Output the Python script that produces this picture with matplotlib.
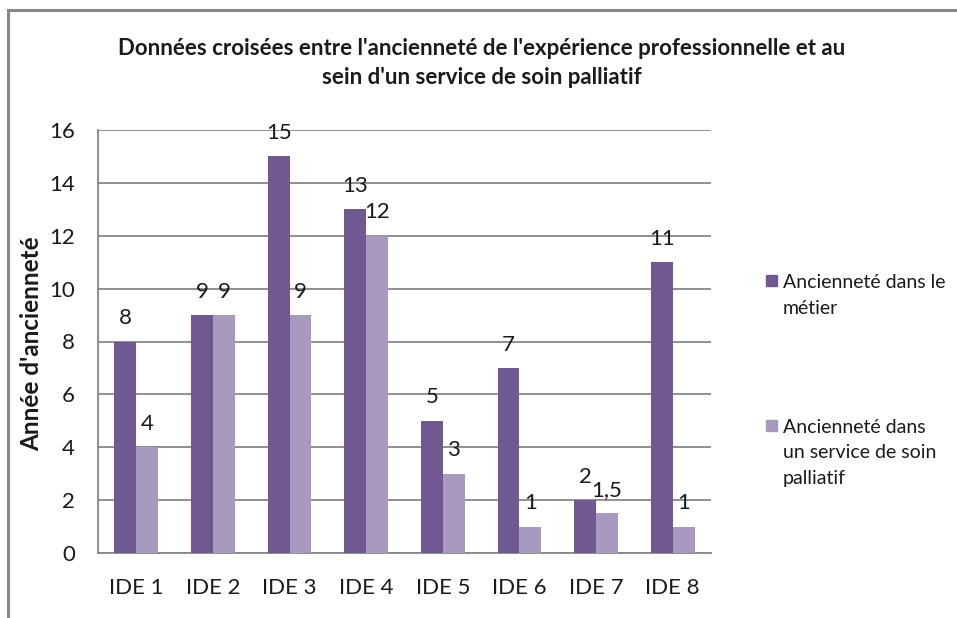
import numpy as np
import matplotlib.pyplot as plt
from matplotlib.patches import Rectangle
from matplotlib.lines import Line2D

# Data
categories = ['IDE 1', 'IDE 2', 'IDE 3', 'IDE 4', 'IDE 5', 'IDE 6', 'IDE 7', 'IDE 8']
anciennete_metier = [8, 9, 15, 13, 5, 7, 2, 11]
anciennete_palliatif = [4, 9, 9, 12, 3, 1, 1.5, 1]
series_names = ["Ancienneté dans le\nmétier",
                "Ancienneté dans\nun service de soin\npalliatif"]
yticks = [0, 2, 4, 6, 8, 10, 12, 14, 16]

title = ("Données croisées entre l'ancienneté de l'expérience professionnelle et au\n"
         "sein d'un service de soin palliatif")
ylabel = "Année d'ancienneté"

DARK = '#715891'
LIGHT = '#A89ABF'
GRID = '#878787'
TXT = '#1a1a1a'

W, H = 957, 618
plt.rcParams['font.family'] = ['Lato', 'DejaVu Sans']

fig = plt.figure(figsize=(W / 100, H / 100), dpi=100)
fig.patch.set_facecolor('white')


def px(x, y):
    # pixel coords (top-left origin) -> figure fraction
    return x / W, 1 - y / H


# plot area
left, right, top, bottom = 98, 711, 130, 553
ax = fig.add_axes([left / W, 1 - bottom / H, (right - left) / W, (bottom - top) / H])

x = np.arange(len(categories))
w = 1 / 3.5
b1 = ax.bar(x - w / 2, anciennete_metier, w, color=DARK, zorder=3)
b2 = ax.bar(x + w / 2, anciennete_palliatif, w, color=LIGHT, zorder=3)


def fmt(v):
    return ('%g' % v).replace('.', ',')


for bars, vals in [(b1, anciennete_metier), (b2, anciennete_palliatif)]:
    for rect, v in zip(bars, vals):
        ax.annotate(fmt(v), (rect.get_x() + rect.get_width() / 2, v),
                    xytext=(0, 12.5), textcoords='offset points',
                    ha='center', va='baseline', fontsize=16, color=TXT, zorder=4)

ax.set_xlim(-0.5, len(categories) - 0.5)
ax.set_ylim(0, 16)
ax.set_yticks(yticks)
ax.set_yticklabels([str(t) for t in yticks])
ax.set_xticks(x)
ax.set_xticklabels(categories)
ax.tick_params(axis='y', length=0, pad=16.5, labelsize=16, labelcolor=TXT)
ax.tick_params(axis='x', length=0, pad=18, labelsize=16, labelcolor=TXT)
ax.yaxis.grid(True, color=GRID, linewidth=1.3, zorder=0)
for side in ['top', 'right']:
    ax.spines[side].set_visible(False)
for side in ['left', 'bottom']:
    ax.spines[side].set_color(GRID)
    ax.spines[side].set_linewidth(1.3)

# title, one baseline per line
for i, line in enumerate(title.split('\n')):
    fig.text(*px(482, 55 + i * 28.5), line, ha='center', va='baseline',
             fontsize=16, fontweight='bold', color=TXT)

fig.text(*px(32, 344), ylabel, rotation=90, ha='center', va='center',
         fontsize=17.5, fontweight='bold', color=TXT)

# legend
for (sq_y, base_y), name, col in zip([(275, 288), (420, 433)], series_names, [DARK, LIGHT]):
    x0, y0 = px(766, sq_y + 11)
    fig.add_artist(Rectangle((x0, y0), 11 / W, 11 / H, transform=fig.transFigure,
                             color=col))
    for i, line in enumerate(name.split('\n')):
        fig.text(*px(783, base_y + i * 25.5), line, ha='left', va='baseline',
                 fontsize=14, color=TXT)

# outer chart frame (top and left edges visible)
fig.add_artist(Line2D([8 / W, 1], [1 - 10 / H, 1 - 10 / H], transform=fig.transFigure,
                      color=GRID, linewidth=2.2))
fig.add_artist(Line2D([8 / W, 8 / W], [0, 1 - 10 / H], transform=fig.transFigure,
                      color=GRID, linewidth=2.2))

fig.savefig('out.png', dpi=100)
